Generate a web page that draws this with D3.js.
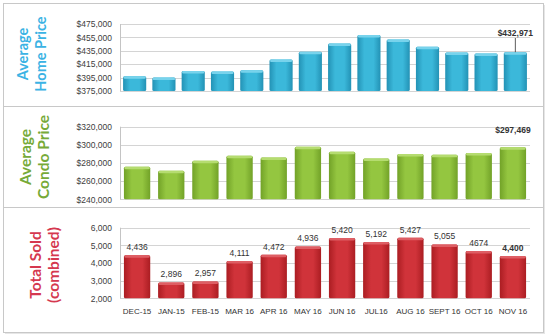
<!DOCTYPE html>
<html><head><meta charset="utf-8">
<script src="https://cdn.jsdelivr.net/npm/d3@7"></script>
<style>body{margin:0;background:#fff}svg{display:block}</style>
</head><body>
<script>
// ---- data ----
const homeMonths = ["OCT-15","NOV-15","DEC-15","JAN-16","FEB-16","MAR-16","APR-16","MAY-16","JUN-16","JUL-16","AUG-16","SEP-16","OCT-16","NOV-16"];
const homePrices = [397000,395000,405000,404000,406000,422000,433500,446000,458500,452000,441000,432500,431000,432971];
const homeTicks = [375000,395000,415000,435000,455000,475000];

const months = ["DEC-15","JAN-15","FEB-15","MAR 16","APR 16","MAY 16","JUN 16","JUL16","AUG 16","SEPT 16","OCT 16","NOV 16"];
const condoPrices = [276000,271500,282500,288000,286000,298000,292500,285000,290000,289000,291000,297469];
const condoTicks = [240000,260000,280000,300000,320000];

const soldTotals = [4436,2896,2957,4111,4472,4936,5420,5192,5427,5055,4674,4400];
const soldLabels = ["4,436","2,896","2,957","4,111","4,472","4,936","5,420","5,192","5,427","5,055","4674","4,400"];
const soldTicks = [2000,3000,4000,5000,6000];

const W = 550, H = 336;
const svg = d3.select("body").append("svg").attr("width", W).attr("height", H);
const defs = svg.append("defs");

function grad(id, dark, mid) {
  const g = defs.append("linearGradient").attr("id", id).attr("x1", "0").attr("x2", "1").attr("y1", "0").attr("y2", "0");
  g.append("stop").attr("offset", "0").attr("stop-color", dark);
  g.append("stop").attr("offset", "0.3").attr("stop-color", mid);
  g.append("stop").attr("offset", "0.7").attr("stop-color", mid);
  g.append("stop").attr("offset", "1").attr("stop-color", dark);
}
grad("gBlue", "#2392b5", "#3bb8da");
grad("gGreen", "#72a228", "#94c640");
grad("gRed", "#ab1d22", "#d0333a");

// panels
const panels = [[3, 106], [106, 207], [207, 332]];
panels.forEach(p => {
  svg.append("rect").attr("x", 5).attr("y", p[0] + 2).attr("width", 540).attr("height", p[1] - p[0]).attr("fill", "#e6e6e6");
});
panels.forEach(p => {
  svg.append("rect").attr("x", 3.5).attr("y", p[0] + 0.5).attr("width", 540).attr("height", p[1] - p[0]).attr("fill", "#fff").attr("stroke", "#c8c8c8").attr("stroke-width", 1);
});

const tickFont = "'Liberation Sans', Arial, sans-serif";

function drawPanel(cfg) {
  const x = d3.scaleBand().domain(cfg.cats).range([120, 530]).paddingInner(cfg.pad).paddingOuter(cfg.pad / 2);
  const y = d3.scaleLinear().domain(cfg.domain).range([cfg.y0, cfg.y1]);
  const g = svg.append("g");
  g.selectAll("line.grid").data(cfg.ticks).join("line")
    .attr("x1", 120).attr("x2", 530).attr("y1", d => Math.round(y(d)) + 0.5).attr("y2", d => Math.round(y(d)) + 0.5)
    .attr("stroke", "#d4d4d4").attr("stroke-width", 1);
  g.append("line").attr("x1", 120.5).attr("x2", 120.5).attr("y1", y(cfg.domain[1])).attr("y2", y(cfg.domain[0]))
    .attr("stroke", "#c4c4c4");
  const ax = g.append("g").attr("transform", "translate(120,0)")
    .call(d3.axisLeft(y).tickValues(cfg.ticks).tickFormat(cfg.fmt).tickSize(0).tickPadding(8));
  ax.select(".domain").remove();
  ax.selectAll("text").attr("font-family", tickFont).attr("font-size", "8.5px").attr("fill", "#404040");
  const bars = g.selectAll("g.bar").data(cfg.values).join("g");
  bars.append("rect")
    .attr("x", (d, i) => x(cfg.cats[i])).attr("width", x.bandwidth())
    .attr("y", d => y(d)).attr("height", d => y(cfg.domain[0]) - y(d))
    .attr("fill", `url(#${cfg.grad})`).attr("rx", 1.5);
  bars.append("rect")
    .attr("x", (d, i) => x(cfg.cats[i]) + 0.5).attr("width", x.bandwidth() - 1)
    .attr("y", d => y(d)).attr("height", 2.5)
    .attr("fill", cfg.cap).attr("rx", 1.2);
  cfg.title.forEach((s, k) => {
    svg.append("text").attr("font-family", "Lato, 'Open Sans', sans-serif").attr("font-weight", "bold")
      .attr("font-size", cfg.tsize + "px").attr("fill", cfg.tcolor).attr("text-anchor", "middle").attr("dominant-baseline", "central")
      .attr("transform", `translate(${cfg.tx[k]},${cfg.ty}) rotate(-90)`).text(s);
  });
  return {x, y, g};
}

const p1 = drawPanel({
  cats: homeMonths, values: homePrices, domain: [375000, 475000], y0: 91, y1: 24, ticks: homeTicks,
  fmt: d => "$" + d3.format(",")(d), pad: 0.21, grad: "gBlue", cap: "#78d3ec",
  title: ["Average", "Home Price"], tx: [22, 40], ty: 54, tsize: 14.5, tcolor: "#3bb3e4"
});
{
  const last = homeMonths.length - 1;
  const cx = p1.x(homeMonths[last]) + p1.x.bandwidth() / 2;
  p1.g.append("line").attr("x1", cx).attr("x2", cx).attr("y1", 38).attr("y2", p1.y(homePrices[last]))
    .attr("stroke", "#333").attr("stroke-width", 0.8);
  p1.g.append("text").attr("x", cx).attr("y", 36).attr("text-anchor", "middle")
    .attr("font-family", tickFont).attr("font-size", "8.5px").attr("font-weight", "bold").attr("fill", "#333")
    .text("$" + d3.format(",")(homePrices[last]));
}

const p2 = drawPanel({
  cats: months, values: condoPrices, domain: [240000, 320000], y0: 199.3, y1: 126.7, ticks: condoTicks,
  fmt: d => "$" + d3.format(",")(d), pad: 0.23, grad: "gGreen", cap: "#b5dc70",
  title: ["Average", "Condo Price"], tx: [25, 43], ty: 157, tsize: 15.5, tcolor: "#76aa38"
});
{
  const last = months.length - 1;
  const cx = p2.x(months[last]) + p2.x.bandwidth() / 2;
  p2.g.append("text").attr("x", cx).attr("y", 133).attr("text-anchor", "middle")
    .attr("font-family", tickFont).attr("font-size", "8.5px").attr("font-weight", "bold").attr("fill", "#333")
    .text("$" + d3.format(",")(condoPrices[last]));
}

const p3 = drawPanel({
  cats: months, values: soldTotals, domain: [2000, 6000], y0: 298.3, y1: 227.7, ticks: soldTicks,
  fmt: d3.format(","), pad: 0.23, grad: "gRed", cap: "#de5e64",
  title: ["Total Sold", "(combined)"], tx: [35, 53], ty: 265, tsize: 15.5, tcolor: "#d5384f"
});
p3.g.selectAll("text.val").data(soldTotals).join("text")
  .attr("x", (d, i) => p3.x(months[i]) + p3.x.bandwidth() / 2)
  .attr("y", d => p3.y(d) - 5)
  .attr("text-anchor", "middle").attr("font-family", tickFont).attr("font-size", "8.5px")
  .attr("font-weight", (d, i) => i === soldTotals.length - 1 ? "bold" : "normal")
  .attr("fill", "#333").text((d, i) => soldLabels[i]);
p3.g.selectAll("text.cat").data(months).join("text")
  .attr("x", d => p3.x(d) + p3.x.bandwidth() / 2).attr("y", 314)
  .attr("text-anchor", "middle").attr("font-family", tickFont).attr("font-size", "8px")
  .attr("fill", "#333").text(d => d);
</script>
</body></html>
